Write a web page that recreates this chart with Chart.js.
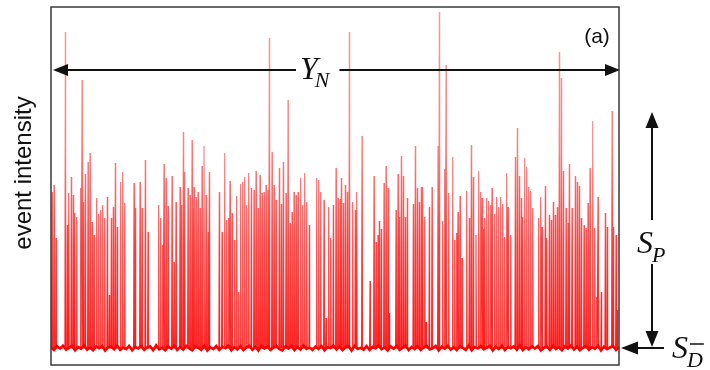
<!DOCTYPE html>
<html>
<head>
<meta charset="utf-8">
<style>
  html, body { margin: 0; padding: 0; background: #ffffff; }
  #wrap { width: 710px; height: 370px; }
</style>
<script src="https://cdn.jsdelivr.net/npm/chart.js@4.4.1/dist/chart.umd.min.js"></script>
</head>
<body>
<div id="wrap"><canvas id="c" width="710" height="370"></canvas></div>
<script>
// Event onset times (arbitrary time units) and peak intensities of each burst.
const eventTimes = [
  1, 3, 5, 14.3, 16.3, 17.7, 20.3, 22.3, 23.7, 25.7,
  29.7, 31, 32.3, 34.3, 37, 39, 41, 43, 45.7, 47.7,
  49.7, 51.7, 53.7, 56.3, 58.3, 60.3, 62.3, 64.3, 66.3, 69.7,
  71.7, 73.7, 83, 84.3, 89, 91, 94.3, 97, 107.7, 109.7,
  111.7, 113, 115, 117, 121, 123, 125, 129, 130.3, 132.3,
  133.7, 137, 139, 141, 142.3,
  143, 145, 147, 149, 151, 153, 155, 157, 158.3, 168.3,
  171, 173.7, 175.7, 177.7, 179, 181, 183.7, 185.7, 187.7, 189.7,
  191.7, 193.7, 195.7, 197.7, 200.3, 203, 205, 207, 209, 211,
  213, 215, 217, 218.3, 221, 223, 225, 228.3, 230.3, 232.3,
  235, 237, 239, 241, 243, 245, 247, 249.7, 251.7, 253.7,
  255.7, 258.3, 265.7, 267.7, 269.7, 273, 275, 277.7, 279.7, 282.3,
  285, 287, 289, 290.3, 292.3, 294.3, 296.3, 298.3, 301.7, 304.3,
  305.7, 311, 319, 323, 325, 327, 328.3, 330.3, 333, 335,
  337, 338.3, 345, 347, 348.3, 350.3, 352.3, 354.3, 356.3, 362.3,
  364.3, 366.3, 368.3, 370.3, 371.7, 373.7, 375, 378.3, 381, 387,
  388.3, 391.7, 393.7, 395, 397.7, 401.7, 403.7, 405.7, 407, 409,
  411, 415.7, 418.3, 420.3, 422.3, 425, 427.7, 429.7,
  431, 432.3, 433.7, 435.7, 437.7, 439.7, 441, 443.7, 445.7, 447.7,
  449.7, 451.7, 453.7, 455.7, 457, 459.7, 464.3, 466.3, 468.3, 470.3,
  471.7, 473.7, 475.7, 477.7, 479.7, 481.7, 487.7, 489.7, 491, 494.3,
  495.7, 498.3, 500.3, 502.3, 504.3, 506.3, 508.3, 510.3, 512.3, 515,
  517, 518.3, 521, 524.3, 526.3, 528.3, 530.3, 533, 535, 537,
  539, 541.7, 543.7, 545.7, 547, 550.3, 554.3, 556.3, 561, 562.3,
  565, 566.3
];
const eventPeaks = [
  156, 163, 110, 316, 123, 155, 171, 153, 135, 131,
  160, 268, 146, 174, 186, 195, 126, 113, 150, 134,
  138, 143, 130, 151, 53, 130, 141, 185, 121, 166,
  176, 145, 165, 140, 166, 140, 188, 116, 143, 130,
  103, 184, 170, 142, 172, 86, 146, 161, 143, 216,
  176, 160, 153, 208, 140,
  161, 151, 156, 140, 182, 202, 153, 116, 176, 156,
  116, 195, 128, 130, 167, 135, 108, 152, 56, 164,
  166, 171, 143, 175, 160, 158, 177, 140, 173, 155,
  156, 163, 158, 310, 196, 163, 148, 180, 144, 186,
  155, 248, 125, 136, 156, 153, 156, 170, 143, 175,
  146, 123, 170, 168, 156, 148, 30, 141, 110, 143,
  180, 150, 149, 170, 145, 163, 156, 316, 146, 138,
  156, 212, 67, 172, 106, 113, 127, 119, 165, 182,
  160, 35, 138, 174, 131, 192, 172, 131, 150, 144,
  202, 160, 146, 161, 161, 131, 26, 141, 161, 202,
  336, 127, 179, 283, 155, 191, 108, 115, 136, 152,
  90, 157, 130, 203, 171, 113, 177, 156,
  150, 119, 130, 150, 147, 143, 160, 134, 151, 141,
  151, 144, 111, 175, 141, 113, 191, 220, 172, 150,
  131, 190, 181, 161, 157, 140, 130, 151, 121, 162,
  110, 133, 128, 146, 133, 141, 296, 270, 177, 140,
  125, 184, 140, 172, 166, 162, 130, 123, 120, 145,
  180, 227, 120, 51, 151, 56, 135, 121, 237, 121,
  113, 38
];
// Background fluctuation of the quiet signal between events.
const baselineNoise = [
  0.8, -2.1, 1.9, -0.6, 2.4, -1.7, 0.3, 2.2, -2.5, 1.1, -0.9, 2.6, -1.8, 0.5, -2.3, 1.7,
  -0.2, 2.0, -2.6, 0.9, 1.5, -1.3, 2.5, -2.0, 0.4, -1.1, 2.3, -2.4, 1.2, -0.5, 2.1, -1.9,
  0.6, 1.8, -2.2, 2.7, -1.4, 0.1, -2.5, 1.6, -0.8, 2.4, -2.1, 1.0, -1.6, 2.2, -0.4, -2.3,
  1.4, 0.2, -1.9, 2.5, -2.7, 0.7, -1.2, 2.1, -2.0, 1.3, -0.3, 2.6, -2.4, 0.9, -1.5, 1.9,
  -2.2, 0.5, 2.3, -1.8, 1.1, -2.6, 2.0, -0.7, 1.6, -2.1, 0.3, 2.4, -1.3, -2.5, 1.8, -0.6,
  2.2, -2.3, 1.0, -1.7, 2.7, -0.9, 0.4, -2.0, 1.5, -1.1, 2.1, -2.4, 0.8, -0.2, 2.5, -1.6,
  1.3, -2.2, 0.6, 1.9, -2.6, 2.3, -1.0, 0.2, -1.8, 2.0, -2.1, 1.2, -0.5, 2.6, -1.4, 0.7,
  -2.5, 1.7, -0.8, 2.2, -1.9, 0.3, 2.4, -2.3, 1.1, -1.2, 1.8, -2.0, 0.5, 2.5, -1.5, -0.4,
  2.1, -2.6, 1.4, -0.9, 2.3, -1.7, 0.8, -2.2, 1.6, 0.1, -1.9, 2.7, -2.4, 1.0, -0.6, 2.0,
  -1.3, 0.4, 2.2, -2.5, 1.3, -1.0, 2.4, -2.1, 0.6, -0.3, 1.9, -1.8, 2.6, -2.3, 0.9, -1.4,
  1.7, -0.7, 2.1, -2.6, 0.2, 1.5, -2.0, 2.3, -1.1, 0.7, -2.4, 1.8, -0.5, 2.5, -1.6, 1.2,
  -2.2, 0.3, 2.0, -1.9, 1.0, -0.8, 2.4, -2.5, 1.4, -1.2, 0.6, 2.2, -2.1, 0.9
];
// Time window and intensity range shown.
const timeRange = [0, 568];
const intensityRange = [-17, 341];
// Annotation levels on the intensity axis.
const levelYN = 278;      // height of the Y_N span arrow
const levelSP = 236;      // typical peak level (S_P)
const levelSD = 0;        // quiet level (S_D-bar)

// Each event: a sharp rise to its peak and a fall back to the quiet level.
const eventPoints = [];
eventTimes.forEach((t, i) => {
  eventPoints.push({ x: t - 0.4, y: 0 });
  eventPoints.push({ x: t, y: eventPeaks[i] });
  eventPoints.push({ x: t + 0.4, y: 0 });
});
const step = (timeRange[1] - timeRange[0]) / (baselineNoise.length - 1);
const noisePoints = baselineNoise.map((v, i) => ({ x: timeRange[0] + i * step, y: v }));

// Spike colour: saturated red near the quiet level, fading to light red at the tips.
function spikeColour(context) {
  const chart = context.chart;
  const area = chart.chartArea;
  if (!area) return 'rgba(240,0,0,0.6)';
  const y = chart.scales.y;
  const g = chart.ctx.createLinearGradient(0, y.getPixelForValue(0), 0, y.getPixelForValue(intensityRange[1]));
  g.addColorStop(0, 'rgba(255,0,0,0.9)');
  g.addColorStop(0.3, 'rgba(245,0,0,0.75)');
  g.addColorStop(0.6, 'rgba(235,10,10,0.5)');
  g.addColorStop(1, 'rgba(230,20,20,0.42)');
  return g;
}

function arrowHead(ctx, x, y, dir, len, half) {
  ctx.beginPath();
  if (dir === 'left') { ctx.moveTo(x, y); ctx.lineTo(x + len, y - half); ctx.lineTo(x + len, y + half); }
  if (dir === 'right') { ctx.moveTo(x, y); ctx.lineTo(x - len, y - half); ctx.lineTo(x - len, y + half); }
  if (dir === 'up') { ctx.moveTo(x, y); ctx.lineTo(x - half, y + len); ctx.lineTo(x + half, y + len); }
  if (dir === 'down') { ctx.moveTo(x, y); ctx.lineTo(x - half, y - len); ctx.lineTo(x + half, y - len); }
  ctx.closePath();
  ctx.fill();
}

const annotations = {
  id: 'annotations',
  afterDraw(chart) {
    const { ctx, chartArea: a, scales } = chart;
    const y = scales.y;
    ctx.save();
    // frame
    ctx.strokeStyle = '#3a3a3a';
    ctx.lineWidth = 1.5;
    ctx.strokeRect(a.left, a.top, a.right - a.left, a.bottom - a.top);

    ctx.fillStyle = '#111';
    ctx.strokeStyle = '#111';
    ctx.lineWidth = 2;

    // Y_N span arrow
    const yN = y.getPixelForValue(levelYN);
    const bigFont = 'italic 32px "Liberation Serif", "DejaVu Serif", serif';
    const subFont = 'italic 22px "Liberation Serif", "DejaVu Serif", serif';
    const labX = 300;
    ctx.font = bigFont;
    const wY = ctx.measureText('Y').width;
    ctx.font = subFont;
    const wN = ctx.measureText('N').width;
    const gapL = labX - 4, gapR = labX + wY - 3 + wN + 10;
    ctx.beginPath();
    ctx.moveTo(a.left + 10, yN); ctx.lineTo(gapL, yN);
    ctx.moveTo(gapR, yN); ctx.lineTo(a.right - 10, yN);
    ctx.stroke();
    arrowHead(ctx, a.left + 2, yN, 'left', 15, 6);
    arrowHead(ctx, a.right + 1, yN, 'right', 15, 6);
    ctx.textBaseline = 'alphabetic';
    ctx.textAlign = 'left';
    ctx.font = bigFont;
    ctx.fillText('Y', labX, yN + 9);
    ctx.font = subFont;
    ctx.fillText('N', labX + wY - 3, yN + 17);

    // S_P vertical double arrow
    const xP = a.right + 33;
    const yTop = y.getPixelForValue(levelSP);
    const yBot = y.getPixelForValue(levelSD) - 1;
    ctx.beginPath();
    ctx.moveTo(xP, yTop + 12); ctx.lineTo(xP, 220);
    ctx.moveTo(xP, 264); ctx.lineTo(xP, yBot - 12);
    ctx.stroke();
    arrowHead(ctx, xP, yTop, 'up', 16, 6.5);
    arrowHead(ctx, xP, yBot, 'down', 16, 6.5);
    ctx.font = bigFont;
    ctx.fillText('S', 637, 253);
    const wS = ctx.measureText('S').width;
    ctx.font = subFont;
    ctx.fillText('P', 637 + wS - 1, 262);

    // S_D-bar arrow to the quiet level
    const yD = y.getPixelForValue(levelSD);
    ctx.beginPath();
    ctx.moveTo(a.right + 14, yD); ctx.lineTo(a.right + 45, yD);
    ctx.stroke();
    arrowHead(ctx, a.right + 2, yD, 'left', 17, 6.5);
    ctx.font = bigFont;
    ctx.fillText('S', 672, 358);
    ctx.font = subFont;
    const dx = 672 + wS - 1;
    ctx.fillText('D', dx, 367);
    const wD = ctx.measureText('D').width;
    ctx.lineWidth = 1.5;
    ctx.beginPath();
    ctx.moveTo(dx + 3, 344); ctx.lineTo(dx + wD + 1, 344);
    ctx.stroke();

    // panel tag
    ctx.font = '21px "Liberation Sans", Arial, sans-serif';
    ctx.textAlign = 'center';
    ctx.textBaseline = 'middle';
    ctx.fillText('(a)', 597, 37);

    // axis title
    ctx.save();
    ctx.translate(24, 173);
    ctx.rotate(-Math.PI / 2);
    ctx.font = '24px "Liberation Sans", Arial, sans-serif';
    ctx.fillText('event intensity', 0, 0);
    ctx.restore();

    ctx.restore();
  }
};

new Chart(document.getElementById('c'), {
  type: 'line',
  data: {
    datasets: [
      {
        label: 'quiet level',
        data: noisePoints,
        borderColor: 'rgba(255,0,0,1)',
        borderWidth: 2.5,
        pointRadius: 0,
        tension: 0
      },
      {
        label: 'events',
        data: eventPoints,
        borderColor: spikeColour,
        borderWidth: 1.1,
        pointRadius: 0,
        tension: 0
      }
    ]
  },
  options: {
    responsive: false,
    animation: false,
    devicePixelRatio: 1,
    layout: { padding: { left: 51, right: 91, top: 7, bottom: 5 } },
    plugins: { legend: { display: false }, tooltip: { enabled: false } },
    scales: {
      x: { type: 'linear', min: timeRange[0], max: timeRange[1], display: false },
      y: { type: 'linear', min: intensityRange[0], max: intensityRange[1], display: false }
    }
  },
  plugins: [annotations]
});
</script>
</body>
</html>
